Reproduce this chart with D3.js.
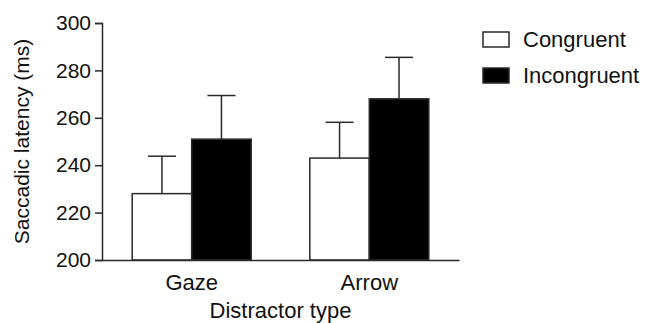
<!DOCTYPE html>
<html>
<head>
<meta charset="utf-8">
<script src="https://cdn.jsdelivr.net/npm/d3@7"></script>
<style>
  body { margin: 0; background: #fff; }
  svg { display: block; }
  text { font-family: "Liberation Sans", Arial, Helvetica, sans-serif; fill: #111; }
</style>
</head>
<body>
<div id="chart"></div>
<script>
// Saccadic latency by distractor type
const categories = ['Gaze', 'Arrow'];
const conditions = ['Congruent', 'Incongruent'];
const means = { Congruent: [228, 243], Incongruent: [251, 268] };
const errors = { Congruent: [15.8, 15.1], Incongruent: [18.4, 17.5] };
const yTicks = [200, 220, 240, 260, 280, 300];

const width = 646, height = 323;
const margin = { top: 23, left: 102, right: 187, bottom: 63 };
const colors = { Congruent: '#fff', Incongruent: '#000' };
const ink = '#2a2a2a';

const svg = d3.select('#chart').append('svg')
    .attr('width', width).attr('height', height);

const x = d3.scaleBand().domain(categories)
    .range([margin.left, width - margin.right]).paddingInner(0.33).paddingOuter(0.17);
const xSub = d3.scaleBand().domain(conditions).range([0, x.bandwidth()]);
const y = d3.scaleLinear().domain([200, 300]).range([height - margin.bottom, margin.top]);

const rows = [];
categories.forEach((c, i) => conditions.forEach(k => rows.push({ cat: c, cond: k, v: means[k][i], e: errors[k][i] })));

// error bars (upper only), drawn under bars
const eb = svg.append('g').attr('stroke', ink).attr('stroke-width', 1.5);
rows.forEach(d => {
    const cx = x(d.cat) + xSub(d.cond) + xSub.bandwidth() / 2;
    eb.append('line').attr('x1', cx).attr('x2', cx).attr('y1', y(d.v)).attr('y2', y(d.v + d.e));
    eb.append('line').attr('x1', cx - 14).attr('x2', cx + 14).attr('y1', y(d.v + d.e)).attr('y2', y(d.v + d.e));
});

svg.append('g').selectAll('rect').data(rows).enter().append('rect')
    .attr('x', d => x(d.cat) + xSub(d.cond))
    .attr('y', d => y(d.v))
    .attr('width', xSub.bandwidth())
    .attr('height', d => y(200) - y(d.v))
    .attr('fill', d => colors[d.cond])
    .attr('stroke', ink).attr('stroke-width', 1.5);

// y axis
const yAxis = svg.append('g').attr('transform', `translate(${margin.left},0)`)
    .call(d3.axisLeft(y).tickValues(yTicks).tickSize(7).tickPadding(4));
yAxis.select('.domain').attr('stroke', ink).attr('stroke-width', 1.5);
yAxis.selectAll('.tick line').attr('stroke', ink).attr('stroke-width', 1.5);
yAxis.selectAll('.tick text').attr('font-size', 21).attr('fill', '#111')
    .attr('font-family', '"Liberation Sans", Arial, sans-serif');

// x axis
const xAxis = svg.append('g').attr('transform', `translate(0,${y(200)})`)
    .call(d3.axisBottom(x).tickSize(0).tickPadding(14).tickSizeOuter(0));
xAxis.select('.domain').attr('stroke', ink).attr('stroke-width', 1.5);
xAxis.selectAll('.tick text').attr('font-size', 22).attr('fill', '#111')
    .attr('font-family', '"Liberation Sans", Arial, sans-serif');

svg.append('text')
    .attr('transform', `translate(29,${(y(200) + y(300)) / 2}) rotate(-90)`)
    .attr('text-anchor', 'middle')
    .attr('font-size', 21)
    .text('Saccadic latency (ms)');

svg.append('text')
    .attr('x', (margin.left + width - margin.right) / 2)
    .attr('y', 318)
    .attr('text-anchor', 'middle')
    .attr('font-size', 22)
    .text('Distractor type');

// legend
const legend = svg.append('g').attr('transform', 'translate(483,32)');
conditions.forEach((k, i) => {
    const g = legend.append('g').attr('transform', `translate(0,${i * 36})`);
    g.append('rect').attr('width', 26).attr('height', 15)
        .attr('fill', colors[k]).attr('stroke', ink).attr('stroke-width', 1.5);
    g.append('text').attr('x', 40).attr('y', 15).attr('font-size', 22).text(k);
});
</script>
</body>
</html>
